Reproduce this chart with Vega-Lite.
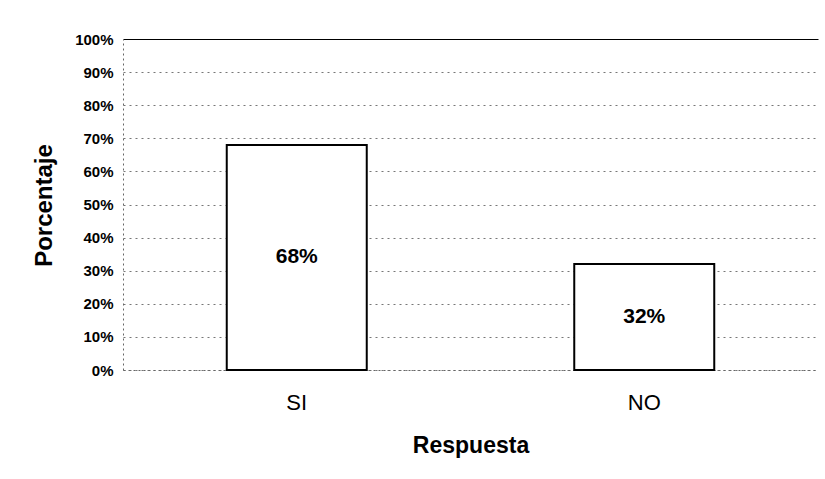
{
  "$schema": "https://vega.github.io/schema/vega-lite/v6.json",
  "autosize": {"type": "none"},
  "padding": {"left": 123, "top": 39, "right": 7, "bottom": 109},
  "width": 695,
  "height": 331,
  "background": "white",
  "config": {
    "view": {"stroke": null},
    "font": "Liberation Sans"
  },
  "data": {
    "values": [
      {"Respuesta": "SI", "pct": 0.68},
      {"Respuesta": "NO", "pct": 0.32}
    ]
  },
  "transform": [{"calculate": "datum.pct / 2", "as": "mid"}],
  "encoding": {
    "x": {
      "field": "Respuesta",
      "type": "nominal",
      "sort": ["SI", "NO"],
      "scale": {"paddingInner": 0, "paddingOuter": 0},
      "axis": {
        "title": "Respuesta",
        "labelAngle": 0,
        "labelFont": "Liberation Sans",
        "labelFontSize": 22,
        "labelColor": "#000",
        "labelPadding": 22,
        "ticks": false,
        "domainColor": "#666",
        "domainDash": [2, 3],
        "titleFont": "Liberation Sans",
        "titleFontSize": 23,
        "titleFontWeight": "bold",
        "titleColor": "#000",
        "titleBaseline": "alphabetic",
        "titleY": 82
      }
    }
  },
  "layer": [
    {
      "mark": {"type": "bar", "fill": "white", "stroke": "black", "strokeWidth": 2, "size": 140},
      "encoding": {
        "y": {
          "field": "pct",
          "type": "quantitative",
          "scale": {"domain": [0, 1], "nice": false},
          "axis": {
            "title": "Porcentaje",
            "format": ".0%",
            "values": [0, 0.1, 0.2, 0.3, 0.4, 0.5, 0.6, 0.7, 0.8, 0.9, 1],
            "labelOverlap": false,
            "labelFlush": false,
            "labelFont": "Liberation Sans",
            "labelFontSize": 15,
            "labelFontWeight": "bold",
            "labelColor": "#000",
            "labelPadding": 10,
            "ticks": false,
            "domainColor": "#666",
            "domainDash": [2, 3],
            "grid": true,
            "gridColor": {"condition": {"test": "datum.value === 1", "value": "#000"}, "value": "#777"},
            "gridDash": {"condition": {"test": "datum.value === 1", "value": []}, "value": [2, 4]},
            "gridWidth": 1,
            "titleFont": "Liberation Sans",
            "titleFontSize": 24,
            "titleFontWeight": "bold",
            "titleColor": "#000",
            "titleAngle": -90,
            "titleAlign": "center",
            "titleBaseline": "middle",
            "titleX": -79,
            "titleY": 166
          }
        }
      }
    },
    {
      "mark": {"type": "text", "fontSize": 21, "fontWeight": "bold", "font": "Liberation Sans", "color": "#000", "baseline": "middle"},
      "encoding": {
        "y": {
          "field": "mid",
          "type": "quantitative",
          "scale": {"domain": [0, 1], "nice": false},
          "axis": {
            "title": "Porcentaje",
            "format": ".0%",
            "values": [0, 0.1, 0.2, 0.3, 0.4, 0.5, 0.6, 0.7, 0.8, 0.9, 1],
            "labelOverlap": false,
            "labelFlush": false,
            "labelFont": "Liberation Sans",
            "labelFontSize": 15,
            "labelFontWeight": "bold",
            "labelColor": "#000",
            "labelPadding": 10,
            "ticks": false,
            "domainColor": "#666",
            "domainDash": [2, 3],
            "grid": true,
            "gridColor": {"condition": {"test": "datum.value === 1", "value": "#000"}, "value": "#777"},
            "gridDash": {"condition": {"test": "datum.value === 1", "value": []}, "value": [2, 4]},
            "gridWidth": 1,
            "titleFont": "Liberation Sans",
            "titleFontSize": 24,
            "titleFontWeight": "bold",
            "titleColor": "#000",
            "titleAngle": -90,
            "titleAlign": "center",
            "titleBaseline": "middle",
            "titleX": -79,
            "titleY": 166
          }
        },
        "text": {"field": "pct", "type": "quantitative", "format": ".0%"}
      }
    }
  ]
}
